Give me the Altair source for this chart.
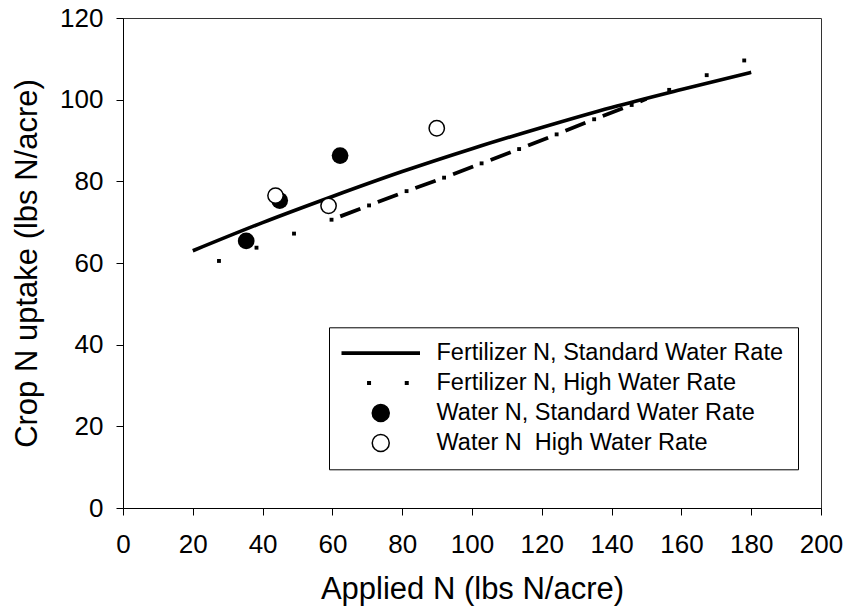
import altair as alt
import pandas as pd

# ---------------- data ----------------
# Fertilizer N, Standard Water Rate (solid fitted curve)
fert_std_x = [20, 40, 60, 80, 100, 120, 140, 160, 180]
fert_std_y = [63.0, 69.9, 76.3, 82.4, 88.0, 93.2, 98.1, 102.5, 106.7]

# Fertilizer N, High Water Rate (dotted markers along the fit)
fert_high_x = [27.5, 38.25, 49.0, 59.75, 70.5, 81.25, 92.0, 102.75, 113.5,
               124.25, 135.0, 145.75, 156.5, 167.25, 178.0]
fert_high_y = [60.5, 63.75, 67.2, 70.6, 74.1, 77.6, 80.9, 84.4, 87.9,
               91.5, 95.2, 98.7, 102.4, 106.0, 109.6]

# dashed stretch of the High Water Rate fit
fert_high_dash_x = [59.75, 70.5, 81.25, 92.0, 102.75, 113.5, 124.25, 135.0, 145.75, 150.0]
fert_high_dash_y = [70.6, 74.1, 77.6, 80.9, 84.4, 87.9, 91.5, 95.2, 98.7, 100.2]

# Water N points
water_std_x = [35.3, 44.9, 62.2]
water_std_y = [65.4, 75.3, 86.3]
water_high_x = [43.7, 58.9, 89.9]
water_high_y = [76.5, 74.0, 93.0]

legend_labels = [
    "Fertilizer N, Standard Water Rate",
    "Fertilizer N, High Water Rate",
    "Water N, Standard Water Rate",
    "Water N\u00a0 High Water Rate",
]

x_ticks = list(range(0, 201, 20))
y_ticks = list(range(0, 121, 20))

FONT = "Liberation Sans"

axis_common = dict(
    domainColor="black", domainWidth=1, tickColor="black", tickSize=7, tickWidth=1,
    labelFont=FONT, labelFontSize=26, labelColor="black",
    titleFont=FONT, titleFontWeight="normal", titleColor="black",
    grid=False, labelFlush=False, labelOverlap=False,
)

# ---------------- encodings ----------------
xs = alt.Scale(domain=[0, 200], nice=False, zero=False)
ys = alt.Scale(domain=[0, 120], nice=False, zero=False)
x_enc = alt.X("x:Q", scale=xs,
              axis=alt.Axis(values=x_ticks, title="Applied N (lbs N/acre)",
                            labelPadding=16, titlePadding=17, titleFontSize=31,
                            **axis_common))
y_enc = alt.Y("y:Q", scale=ys,
              axis=alt.Axis(values=y_ticks, title="Crop N uptake (lbs N/acre)",
                            labelPadding=13, titlePadding=16, titleFontSize=31,
                            **axis_common))

std_line = alt.Chart(pd.DataFrame({"x": fert_std_x, "y": fert_std_y})).mark_line(
    color="black", strokeWidth=3.6, interpolate="monotone"
).encode(x=x_enc, y=y_enc)

high_dash = alt.Chart(pd.DataFrame({"x": fert_high_dash_x, "y": fert_high_dash_y})).mark_line(
    color="black", strokeWidth=3.8, strokeDash=[21.5, 18.65], strokeDashOffset=30.8,
    strokeCap="butt"
).encode(x=x_enc, y=y_enc)

high_dots = alt.Chart(pd.DataFrame({"x": fert_high_x, "y": fert_high_y})).mark_square(
    color="black", size=15, opacity=1
).encode(x=x_enc, y=y_enc)

water_std = alt.Chart(pd.DataFrame({"x": water_std_x, "y": water_std_y})).mark_circle(
    color="black", size=280, opacity=1
).encode(x=x_enc, y=y_enc)

water_high = alt.Chart(pd.DataFrame({"x": water_high_x, "y": water_high_y})).mark_point(
    shape="circle", filled=True, fill="white", stroke="black", strokeWidth=1.5,
    size=235, opacity=1
).encode(x=x_enc, y=y_enc)

# ---------------- legend (built-in legend with custom symbols) ----------------
shape_paths = [
    "M-38.5,-1.1H38.5V1.1H-38.5Z",
    "M-12.95,-1.25H-10.45V1.25H-12.95Z M24.75,-1.25H27.25V1.25H24.75Z",
    "M-8.5,0A8.5,8.5,0,1,0,8.5,0A8.5,8.5,0,1,0,-8.5,0Z",
    "M-8.5,0A8.5,8.5,0,1,0,8.5,0A8.5,8.5,0,1,0,-8.5,0Z",
]
leg = alt.Legend(
    title=None, orient="none", legendX=206, legendY=309.3,
    fillColor="white", strokeColor="black", padding=14, cornerRadius=0,
    labelFont=FONT, labelFontSize=23.5, labelColor="black", labelLimit=0,
    symbolSize=4, symbolOffset=26, labelOffset=44, rowPadding=5,
    symbolStrokeWidth=1.5,
)
leg_df = pd.DataFrame({"series": legend_labels})
legend_layer = alt.Chart(leg_df).transform_filter("false").mark_point(
    filled=True, strokeWidth=1.5, opacity=1
).encode(
    shape=alt.Shape("series:N", scale=alt.Scale(domain=legend_labels, range=shape_paths), legend=leg),
    fill=alt.Fill("series:N", scale=alt.Scale(domain=legend_labels,
                                              range=["black", "black", "black", "white"]), legend=leg),
    stroke=alt.Stroke("series:N", scale=alt.Scale(domain=legend_labels,
                                                  range=["black", "black", "black", "black"]), legend=leg),
)

chart = alt.layer(
    std_line, high_dash, high_dots, water_std, water_high, legend_layer
).properties(
    width=698, height=490,
    autosize=alt.AutoSizeParams(type="none"),
    padding={"left": 123, "top": 18, "right": 25, "bottom": 103},
).configure_view(
    stroke="#333333", strokeWidth=1
)

chart.save("out.html", embed_options={"renderer": "svg", "actions": False})
